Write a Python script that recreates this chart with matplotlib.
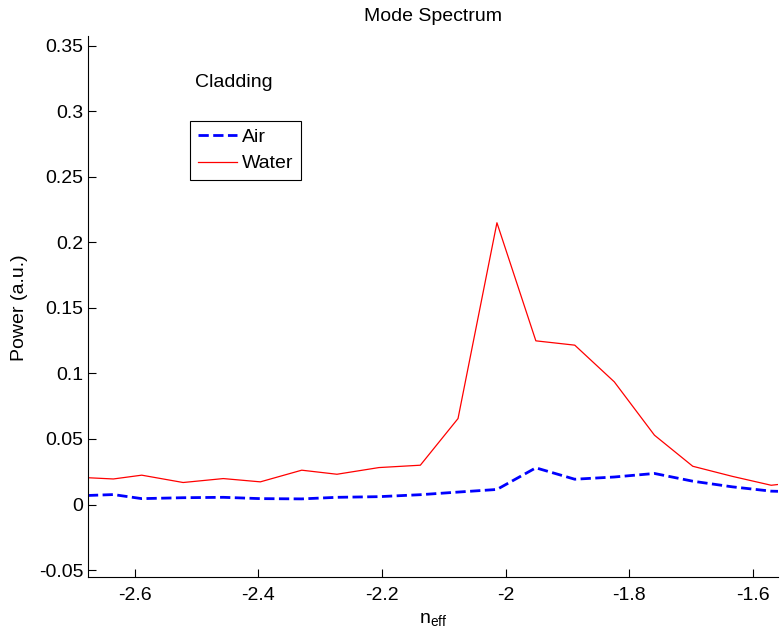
import matplotlib
matplotlib.use('Agg')
import matplotlib.pyplot as plt

plt.rcParams['font.family'] = ['Liberation Sans', 'DejaVu Sans']
plt.rcParams['axes.unicode_minus'] = False
plt.rcParams['mathtext.default'] = 'regular'

# effective index grid
n_eff = [-2.700, -2.635, -2.589, -2.522, -2.457, -2.397, -2.330, -2.273, -2.205, -2.138,
         -2.077, -2.014, -1.951, -1.888, -1.824, -1.759, -1.697, -1.633, -1.570, -1.507]

power_air = [0.0065, 0.0076, 0.0045, 0.0052, 0.0055, 0.0045, 0.0043, 0.0055, 0.0060, 0.0075,
             0.0095, 0.0115, 0.0280, 0.0193, 0.0210, 0.0237, 0.0178, 0.0135, 0.0102, 0.0095]

power_water = [0.0210, 0.0195, 0.0224, 0.0168, 0.0198, 0.0173, 0.0262, 0.0231, 0.0282, 0.0300,
               0.0656, 0.2150, 0.1249, 0.1216, 0.0936, 0.0529, 0.0292, 0.0215, 0.0147, 0.0180]

xticks = [-2.6, -2.4, -2.2, -2.0, -1.8, -1.6]
xtick_labels = ['-2.6', '-2.4', '-2.2', '-2', '-1.8', '-1.6']
yticks = [-0.05, 0, 0.05, 0.1, 0.15, 0.2, 0.25, 0.3, 0.35]
ytick_labels = ['-0.05', '0', '0.05', '0.1', '0.15', '0.2', '0.25', '0.3', '0.35']

fig = plt.figure(figsize=(7.8, 6.34), dpi=100)
ax = fig.add_axes([88 / 780, 1 - 577 / 634, (778 - 88) / 780, (577 - 36) / 634])

ax.plot(n_eff, power_air, color='#0000ff', linestyle='--', linewidth=2.0, label='Air')
ax.plot(n_eff, power_water, color='#ff0000', linewidth=0.9, label='Water')

ax.set_xlim(-2.676, -1.559)
ax.set_ylim(-0.0553, 0.3575)
ax.set_xticks(xticks)
ax.set_xticklabels(xtick_labels)
ax.set_yticks(yticks)
ax.set_yticklabels(ytick_labels)

ax.spines['top'].set_visible(False)
ax.spines['right'].set_visible(False)
ax.tick_params(direction='in', length=6, width=0.8, labelsize=14)
ax.tick_params(axis='x', pad=7)
ax.tick_params(axis='y', pad=3.5)

ax.set_title('Mode Spectrum', fontsize=14, pad=11)
ax.set_xlabel('n$_{eff}$', fontsize=14, labelpad=5)
fig.text(20 / 780, 1 - 308 / 634, 'Power (a.u.)', rotation=90, ha='center', va='center', fontsize=14)

fig.text(195 / 780, 1 - 87.3 / 634, 'Cladding', fontsize=14, va='baseline')

leg = ax.legend(loc='upper left', bbox_to_anchor=(190 / 780, 1 - 120.7 / 634),
                bbox_transform=fig.transFigure, borderaxespad=0, fontsize=14,
                handlelength=2.0, handletextpad=0.25, labelspacing=0.45, borderpad=0.4,
                fancybox=False, framealpha=1)
leg.get_frame().set_edgecolor('black')
leg.get_frame().set_linewidth(0.8)

fig.savefig('out.png', dpi=100)
